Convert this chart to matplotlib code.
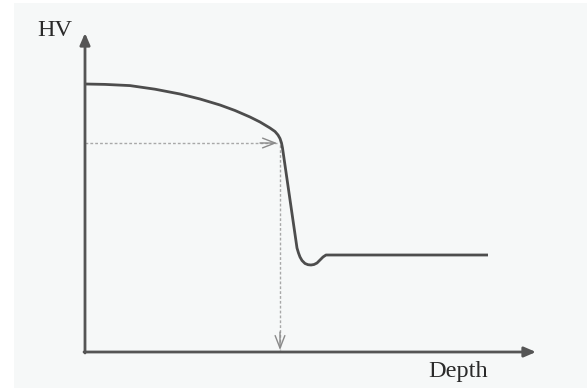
import matplotlib
matplotlib.use("Agg")
import matplotlib.pyplot as plt
from matplotlib.patches import Rectangle

# hardness profile (arbitrary units)
depth = [0, 20, 45, 70, 95, 115, 135, 150, 165, 175, 185, 190, 193, 195, 196.5, 197.5,
         212, 213.5, 215, 217, 220, 223, 226, 229, 232, 235, 238, 241, 245, 403]
hv = [268, 267.6, 266.4, 262.8, 258, 253, 247, 241.5, 235, 230, 224, 220.5, 217, 213.5, 209, 204,
      104, 99, 95, 91.5, 88.5, 87.3, 87, 87.5, 89, 92, 95, 97, 97, 97]

# case depth marker
mark_depth = 195
mark_hv = 209

fig = plt.figure(figsize=(5.87, 3.88), dpi=100)
fig.patch.set_facecolor("white")
fig.patches.append(Rectangle((14 / 587, 0), 1, 385 / 388, transform=fig.transFigure,
                             facecolor="#f6f8f8", edgecolor="none", zorder=0))

ax = fig.add_axes([0, 0, 1, 1])
ax.set_zorder(2)
ax.set_facecolor("none")
ax.set_xlim(-85, 502)
ax.set_ylim(-36, 352)
ax.axis("off")

axis_col = "#555555"
# axes with arrows
ax.annotate("", xy=(0, 319), xytext=(0, -1),
            arrowprops=dict(arrowstyle="-|>,head_length=0.7,head_width=0.3",
                            color=axis_col, lw=2.0, shrinkA=0, shrinkB=0))
ax.annotate("", xy=(451, 0), xytext=(-1, 0),
            arrowprops=dict(arrowstyle="-|>,head_length=0.7,head_width=0.3",
                            color=axis_col, lw=2.0, shrinkA=0, shrinkB=0))

# dotted guide lines
dot_col = "#a8a8a8"
ax.plot([0, mark_depth - 3], [mark_hv, mark_hv], ls=(0, (2, 1.5)), color=dot_col, lw=1.0)
ax.plot([mark_depth, mark_depth], [mark_hv + 3, 2], ls=(0, (2, 1.5)), color=dot_col, lw=1.0)
ax.annotate("", xy=(mark_depth - 3, mark_hv), xytext=(mark_depth - 20, mark_hv),
            arrowprops=dict(arrowstyle="->,head_length=0.9,head_width=0.35",
                            color="#8a8a8a", lw=1.0, shrinkA=0, shrinkB=0))
ax.annotate("", xy=(mark_depth, 2), xytext=(mark_depth, 20),
            arrowprops=dict(arrowstyle="->,head_length=0.9,head_width=0.35",
                            color="#8a8a8a", lw=1.0, shrinkA=0, shrinkB=0))

# hardness curve
ax.plot(depth, hv, color="#4d4d4d", lw=2.0, solid_joinstyle="round", solid_capstyle="butt")

ax.text(-30, 321, "HV", family="Liberation Serif", fontsize=17.5, color="#2a2a2a",
        ha="center", va="center")
ax.text(373, -20, "Depth", family="Liberation Serif", fontsize=17.5, color="#2a2a2a",
        ha="center", va="center")

fig.savefig("out.png", dpi=100)
